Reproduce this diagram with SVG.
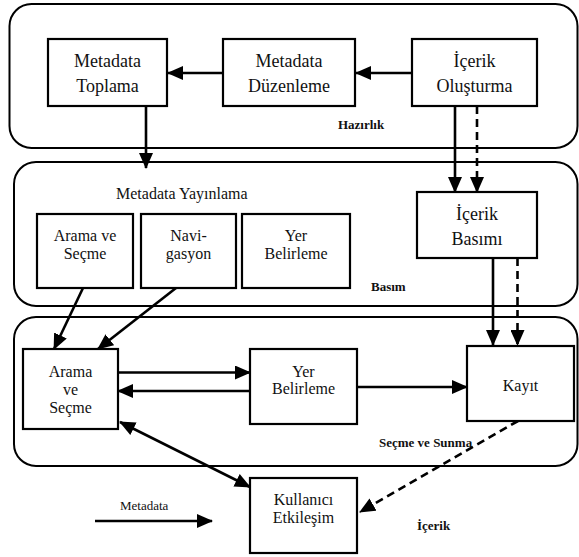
<svg xmlns="http://www.w3.org/2000/svg" width="579" height="557" viewBox="0 0 579 557">
  <style>
    text { font-family: "Liberation Serif", "Times New Roman", serif; fill: #111; }
    .stage { fill: none; stroke: #000; stroke-width: 2; }
    .box { fill: #fff; stroke: #000; stroke-width: 2.2; }
    .t18 { font-size: 18px; text-anchor: middle; }
    .t16 { font-size: 16px; text-anchor: middle; }
    .title { font-size: 16px; }
    .lbl { font-size: 13px; }
    .b { font-weight: bold; }
    .flow { fill: none; stroke: #000; stroke-width: 2.6; marker-end: url(#head); }
    .dash { stroke-dasharray: 8 5; }
  </style>
  <defs>
    <marker id="head" viewBox="0 0 16 14" refX="15" refY="7" markerWidth="16" markerHeight="14" markerUnits="userSpaceOnUse" orient="auto-start-reverse">
      <path d="M0,0 L16,7 L0,14 z" fill="#000"/>
    </marker>
  </defs>
  <rect width="579" height="557" fill="#fff"/>

  <!-- stage frames -->
  <g id="stage-hazirlik">
    <rect class="stage" x="9.5" y="4" width="568" height="144" rx="22"/>
    <text class="lbl b" x="361" y="129" text-anchor="middle">Hazırlık</text>
  </g>
  <g id="stage-basim">
    <rect class="stage" x="14" y="162" width="563.5" height="144" rx="22"/>
    <text class="title" x="116" y="199">Metadata Yayınlama</text>
    <text class="lbl b" x="371" y="291">Basım</text>
  </g>
  <g id="stage-secme">
    <rect class="stage" x="14" y="317" width="563.5" height="149" rx="22"/>
    <text class="lbl b" x="379" y="447">Seçme ve Sunma</text>
  </g>

  <!-- connectors -->
  <g id="connectors">
    <line class="flow" x1="223" y1="73" x2="168" y2="73"/>
    <line class="flow" x1="412" y1="73" x2="356" y2="73"/>
    <line class="flow" x1="146" y1="106" x2="146" y2="168"/>
    <line class="flow" x1="455" y1="106" x2="455" y2="192"/>
    <line class="flow dash" x1="477" y1="106" x2="477" y2="192"/>
    <line class="flow" x1="493" y1="258" x2="493" y2="345"/>
    <line class="flow dash" x1="517.5" y1="258" x2="517.5" y2="345"/>
    <line class="flow" x1="83" y1="288" x2="54" y2="349"/>
    <line class="flow" x1="176" y1="288" x2="98" y2="349"/>
    <line class="flow" x1="118" y1="372.5" x2="250" y2="372.5"/>
    <line class="flow" x1="250" y1="391" x2="118" y2="391"/>
    <line class="flow" x1="357" y1="387" x2="467" y2="387"/>
    <line class="flow" x1="120" y1="422" x2="250" y2="487" marker-start="url(#head)"/>
    <line class="flow dash" x1="518" y1="421" x2="360" y2="512"/>
    <line class="flow" x1="95" y1="521" x2="212" y2="521"/>
  </g>

  <!-- nodes -->
  <g id="metadata-toplama">
    <rect class="box" x="48" y="39" width="119" height="67"/>
    <text class="t18" x="107.5" y="67">Metadata</text>
    <text class="t18" x="107.5" y="92">Toplama</text>
  </g>
  <g id="metadata-duzenleme">
    <rect class="box" x="223" y="39" width="132" height="67"/>
    <text class="t18" x="289" y="67">Metadata</text>
    <text class="t18" x="289" y="92">Düzenleme</text>
  </g>
  <g id="icerik-olusturma">
    <rect class="box" x="412" y="39" width="125" height="67"/>
    <text class="t18" x="474.5" y="67">İçerik</text>
    <text class="t18" x="474.5" y="92">Oluşturma</text>
  </g>
  <g id="yayin-arama">
    <rect class="box" x="37" y="214" width="96" height="74"/>
    <text class="t16" x="85" y="241">Arama ve</text>
    <text class="t16" x="85" y="259">Seçme</text>
  </g>
  <g id="yayin-navigasyon">
    <rect class="box" x="141" y="214" width="95" height="74"/>
    <text class="t16" x="188.5" y="241">Navi-</text>
    <text class="t16" x="188.5" y="259">gasyon</text>
  </g>
  <g id="yayin-yer">
    <rect class="box" x="242" y="214" width="108" height="74"/>
    <text class="t16" x="296" y="241">Yer</text>
    <text class="t16" x="296" y="259">Belirleme</text>
  </g>
  <g id="icerik-basimi">
    <rect class="box" x="417" y="192" width="120" height="66"/>
    <text class="t18" x="477" y="220">İçerik</text>
    <text class="t18" x="477" y="245">Basımı</text>
  </g>
  <g id="arama-secme">
    <rect class="box" x="23" y="349" width="95" height="80"/>
    <text class="t16" x="70.5" y="377">Arama</text>
    <text class="t16" x="70.5" y="395">ve</text>
    <text class="t16" x="70.5" y="413">Seçme</text>
  </g>
  <g id="yer-belirleme">
    <rect class="box" x="250" y="349" width="107" height="75"/>
    <text class="t16" x="303.5" y="377">Yer</text>
    <text class="t16" x="303.5" y="394">Belirleme</text>
  </g>
  <g id="kayit">
    <rect class="box" x="467" y="346" width="107" height="75"/>
    <text class="t16" x="520.5" y="391">Kayıt</text>
  </g>
  <g id="kullanici-etkilesim">
    <rect class="box" x="250" y="478" width="107" height="75"/>
    <text class="t16" x="303.5" y="505">Kullanıcı</text>
    <text class="t16" x="303.5" y="523">Etkileşim</text>
  </g>

  <!-- legend -->
  <g id="legend">
    <text class="lbl" x="120" y="510">Metadata</text>
    <text class="lbl b" x="417" y="530">İçerik</text>
  </g>
</svg>
